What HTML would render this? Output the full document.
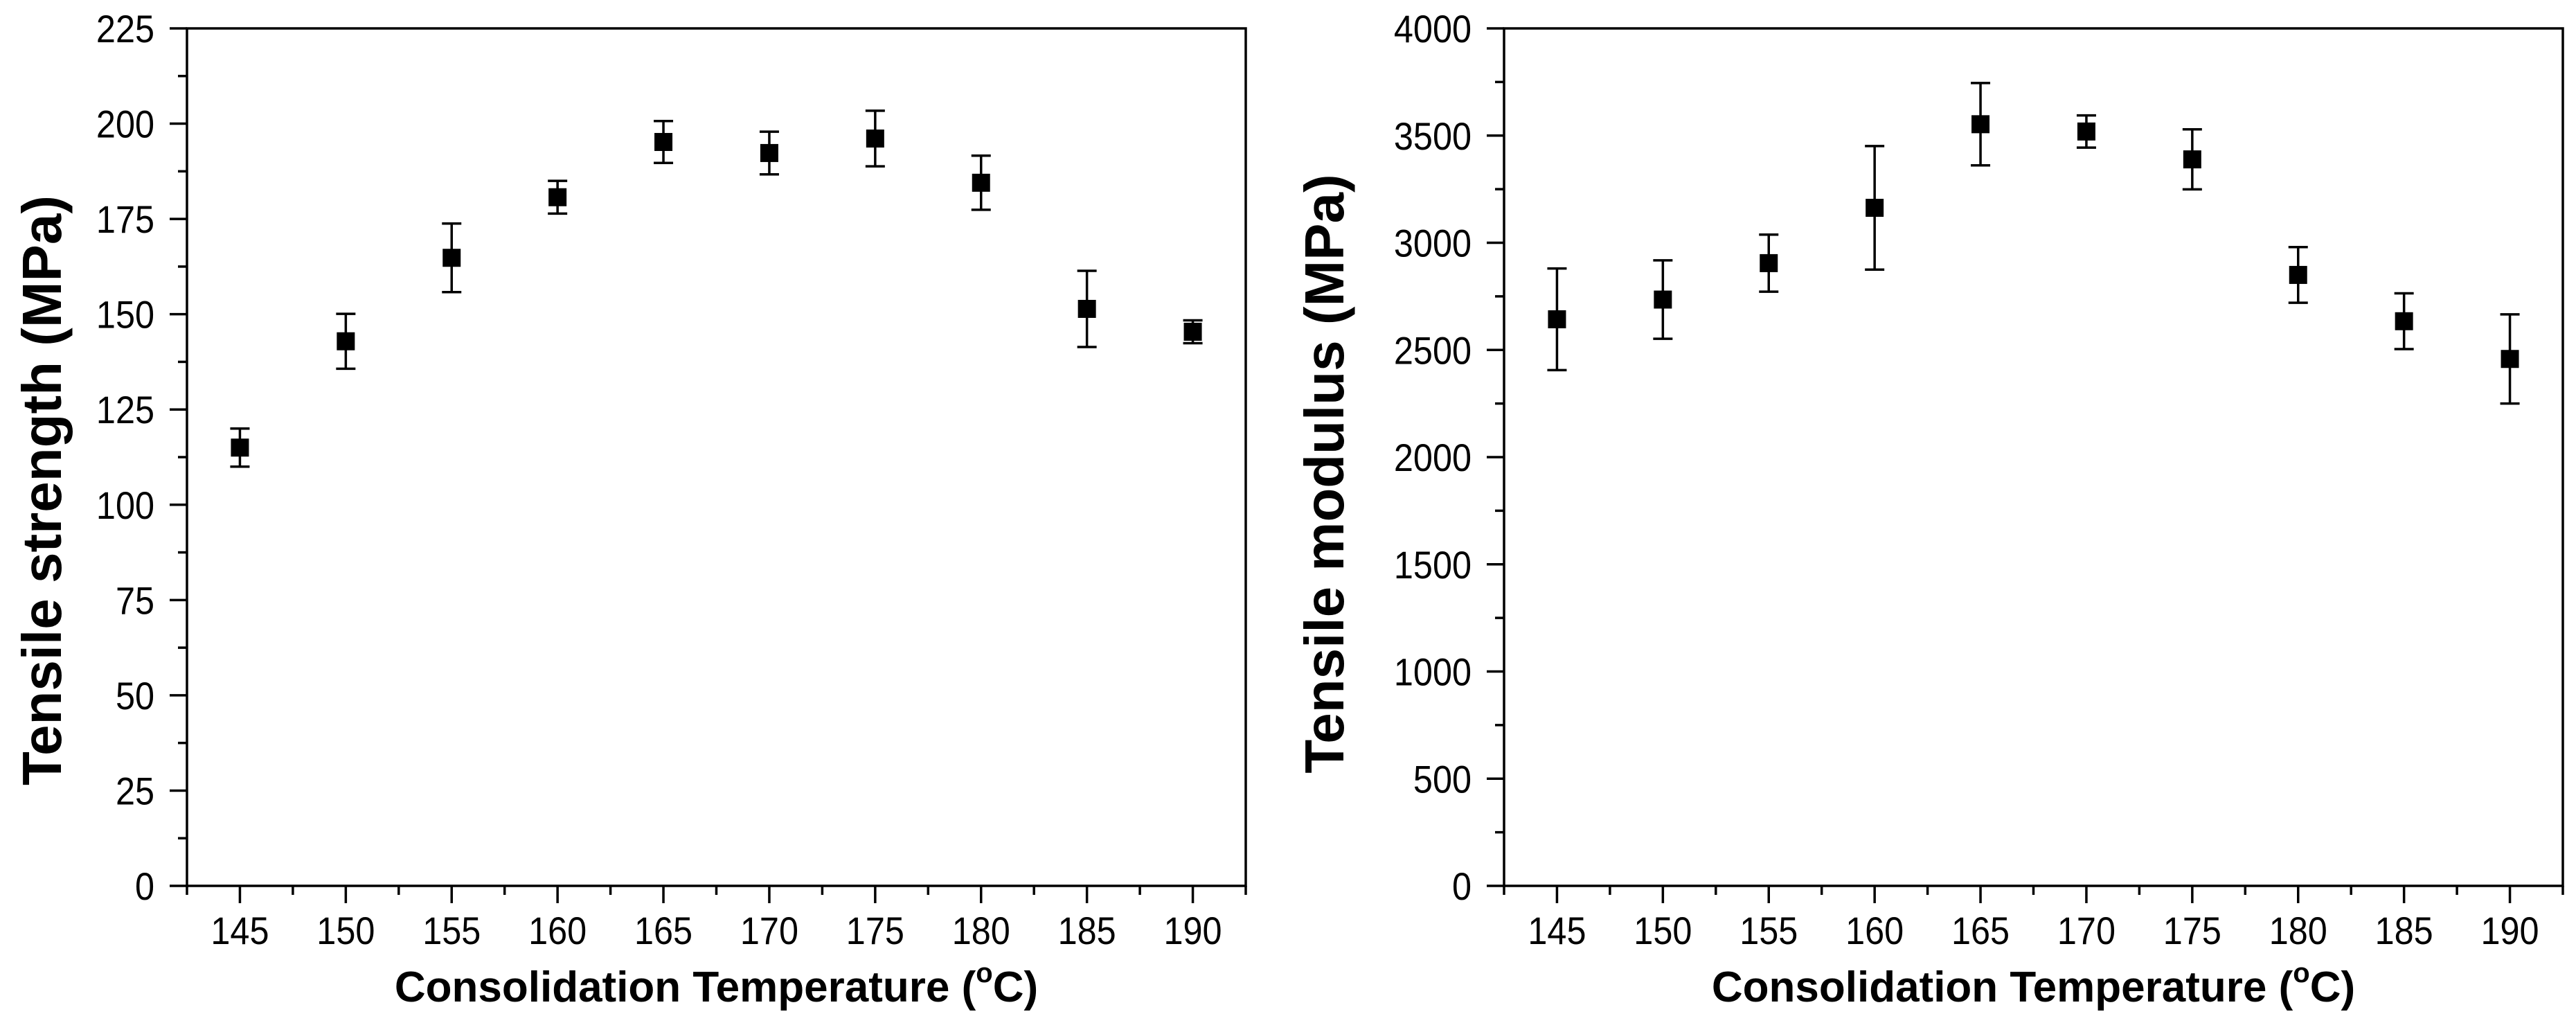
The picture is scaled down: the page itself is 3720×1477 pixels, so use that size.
<!DOCTYPE html>
<html><head><meta charset="utf-8"><style>
html,body{margin:0;padding:0;background:#fff;}
svg{display:block;}
text{font-family:"Liberation Sans",Arial,sans-serif;fill:#000;}
</style></head><body>
<svg id="root" width="3720" height="1477" viewBox="0 0 3720 1477" xmlns="http://www.w3.org/2000/svg"></svg>
<script>
const temps = [145,150,155,160,165,170,175,180,185,190];
const xTicks = [145,150,155,160,165,170,175,180,185,190];
const strengthVals = [115,142.9,164.8,180.7,195.2,192.3,196.1,184.5,151.4,145.4];
const strengthErr = [5,7.2,9,4.3,5.5,5.6,7.3,7.1,10,3];
const strengthTicks = [0,25,50,75,100,125,150,175,200,225];
const modulusVals = [2643,2735,2905,3163,3553,3519,3389,2850,2634,2458];
const modulusErr = [237,183,133,288,192,75,140,130,130,208];
const modulusTicks = [0,500,1000,1500,2000,2500,3000,3500,4000];

const NS='http://www.w3.org/2000/svg';
const root=document.getElementById('root');
function mk(tag,attrs,parent){const e=document.createElementNS(NS,tag);for(const k in attrs)e.setAttribute(k,attrs[k]);(parent||root).appendChild(e);return e;}

function chart(cfg){
  const g=mk('g',{});
  
  
  const L=cfg.left,R=cfg.left+1529,T=41,B=1279;
  const xMin=142.5,xMax=192.5;
  const sx=v=>L+(v-xMin)/(xMax-xMin)*(R-L);
  const sy=v=>B-(v-cfg.yMin)/(cfg.yMax-cfg.yMin)*(B-T);
  const frame=mk('rect',{x:L,y:T,width:R-L,height:B-T,fill:'none',stroke:'#000','stroke-width':3.5},g);
  
  
  const step=cfg.yTicks[1]-cfg.yTicks[0];
  for(let i=0;i<cfg.yTicks.length;i++){
    const v=cfg.yTicks[i],y=sy(v);
    const t=mk('line',{x1:L-25,x2:L,y1:y,y2:y,stroke:'#000','stroke-width':3.5},g);
    
    
    const lb=mk('text',{'font-size':56,'text-anchor':'end',transform:`translate(${L-47},${y+20}) scale(0.9,1)`},g);
    lb.textContent=v;
    
    
    if(i<cfg.yTicks.length-1){const ym=sy(v+step/2);
      const m=mk('line',{x1:L-13,x2:L,y1:ym,y2:ym,stroke:'#000','stroke-width':3.5},g);
      
      }
  }
  for(let v=xMin;v<=xMax+0.01;v+=2.5){
    const major=xTicks.includes(v);const x=sx(v);
    const t=mk('line',{x1:x,x2:x,y1:B,y2:B+(major?25:13),stroke:'#000','stroke-width':3.5},g);
    
    
  }
  for(const v of xTicks){
    const lb=mk('text',{'font-size':56,'text-anchor':'middle',transform:`translate(${sx(v)},1363) scale(0.9,1)`},g);
    lb.textContent=v;
    
    
  }
  const xt=mk('text',{x:(L+R)/2,y:1446,'font-size':62,'font-weight':'bold','text-anchor':'middle'},g);
  xt.innerHTML='Consolidation Temperature (<tspan font-size="40" dy="-28">o</tspan><tspan dy="28">C)</tspan>';
  
  
  const yt=mk('text',{x:0,y:0,'font-size':80,'font-weight':'bold','text-anchor':'middle',transform:`translate(${cfg.titleX},${cfg.titleY}) rotate(-90)`},g);
  yt.textContent=cfg.title;
  
  
  for(let i=0;i<temps.length;i++){
    const x=sx(temps[i]),y=sy(cfg.vals[i]),y1=sy(cfg.vals[i]+cfg.err[i]),y2=sy(cfg.vals[i]-cfg.err[i]);
    const eb=mk('path',{d:`M${x},${y1}V${y2}M${x-14},${y1}H${x+14}M${x-14},${y2}H${x+14}`,stroke:'#000','stroke-width':3.5,fill:'none'},g);
    
    
    const p=mk('rect',{x:x-13,y:y-13,width:26,height:26,fill:'#000'},g);
    
    
  }
}
chart({name:'tensile-strength-chart',left:270,yMin:0,yMax:225,yTicks:strengthTicks,vals:strengthVals,err:strengthErr,title:'Tensile strength (MPa)',titleX:88,titleY:708});
chart({name:'tensile-modulus-chart',left:2172,yMin:0,yMax:4000,yTicks:modulusTicks,vals:modulusVals,err:modulusErr,title:'Tensile modulus (MPa)',titleX:1940,titleY:684});
</script>
</body></html>
